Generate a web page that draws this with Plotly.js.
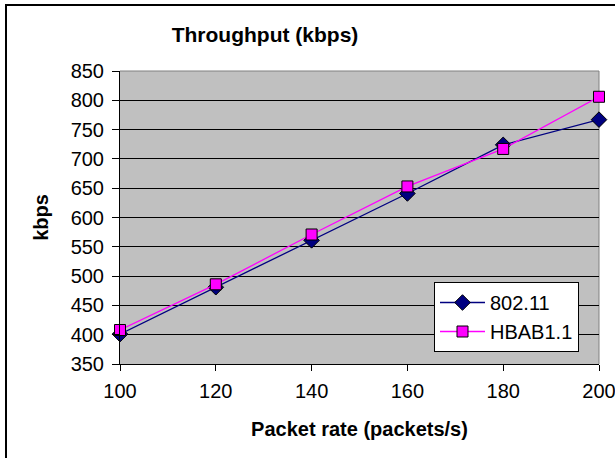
<!DOCTYPE html>
<html>
<head>
<meta charset="utf-8">
<script src="https://cdn.plot.ly/plotly-3.0.1.min.js"></script>
<style>html,body{margin:0;padding:0;background:#fff;}#chart{width:615px;height:458px;}</style>
</head>
<body>
<div id="chart"></div>
<script>
var packetRate = [100, 120, 140, 160, 180, 200];
var series80211 = [401, 481, 561, 641, 724, 767];
var seriesHBAB = [408, 486, 571, 653, 717, 806];
var yTicks = [350, 400, 450, 500, 550, 600, 650, 700, 750, 800, 850];

var L = 120, R = 16, T = 71, B = 94, W = 615, H = 458;
var pw = W - L - R, ph = H - T - B;
function px(x) { return (x - L) / pw; }
function py(y) { return (H - B - y) / ph; }

var traces = [
  {
    x: packetRate, y: series80211, name: '802.11', type: 'scatter', mode: 'lines+markers',
    line: {color: '#000080', width: 1.3},
    marker: {symbol: 'diamond', size: 12, color: '#000080', line: {color: '#000000', width: 1}},
    cliponaxis: false
  },
  {
    x: packetRate, y: seriesHBAB, name: 'HBAB1.1', type: 'scatter', mode: 'lines+markers',
    line: {color: '#FF00FF', width: 1.3},
    marker: {symbol: 'square', size: 11, color: '#FF00FF', line: {color: '#000000', width: 1}},
    cliponaxis: false
  }
];

var layout = {
  width: W, height: H,
  margin: {l: L, r: R, t: T, b: B, pad: 0},
  paper_bgcolor: '#ffffff',
  plot_bgcolor: '#C0C0C0',
  font: {family: 'Liberation Sans, Arial, sans-serif', color: '#000', size: 20},
  title: {text: 'Throughput (kbps)', font: {size: 21, family: 'Liberation Sans, Arial, sans-serif', weight: 'bold'},
          x: 265 / W, xref: 'container', xanchor: 'center', y: 1 - 35 / H, yref: 'container', yanchor: 'middle'},
  xaxis: {
    range: [100, 200], tickvals: packetRate, ticktext: packetRate.map(String),
    showgrid: false, zeroline: false,
    showline: true, linecolor: '#000', linewidth: 1,
    ticks: 'outside', ticklen: 6, tickcolor: '#000', tickwidth: 1,
    tickfont: {size: 20}, ticklabelstandoff: 3, ticklabeloverflow: 'allow',
    title: {text: 'Packet rate (packets/s)', font: {size: 20, weight: 'bold'}, standoff: 20}
  },
  yaxis: {
    range: [350, 850], tickvals: yTicks, ticktext: yTicks.map(String),
    showgrid: true, gridcolor: '#000', gridwidth: 1, zeroline: false,
    showline: true, linecolor: '#000', linewidth: 1,
    ticks: 'outside', ticklen: 7, tickcolor: '#000', tickwidth: 1,
    tickfont: {size: 20}, ticklabelstandoff: 4,
    title: {text: 'kbps', font: {size: 20, weight: 'bold'}, standoff: 16}
  },
  showlegend: true,
  legend: {
    x: px(434), xanchor: 'left', y: py(282), yanchor: 'top',
    bgcolor: '#ffffff', bordercolor: '#000', borderwidth: 1,
    font: {size: 20}, itemwidth: 45, tracegroupgap: 0
  },
  shapes: [
    {type: 'line', xref: 'paper', yref: 'paper', x0: px(120), x1: px(599), y0: py(71), y1: py(71), line: {color: '#808080', width: 1}, layer: 'between'},
    {type: 'line', xref: 'paper', yref: 'paper', x0: px(599), x1: px(599), y0: py(71), y1: py(364), line: {color: '#808080', width: 1}, layer: 'between'},
    {type: 'line', xref: 'paper', yref: 'paper', x0: px(6), x1: px(6), y0: py(5), y1: py(460), line: {color: '#000', width: 2}},
    {type: 'line', xref: 'paper', yref: 'paper', x0: px(5), x1: px(620), y0: py(5), y1: py(5), line: {color: '#000', width: 2}}
  ]
};

Plotly.newPlot('chart', traces, layout, {displayModeBar: false, staticPlot: true});
</script>
</body>
</html>
